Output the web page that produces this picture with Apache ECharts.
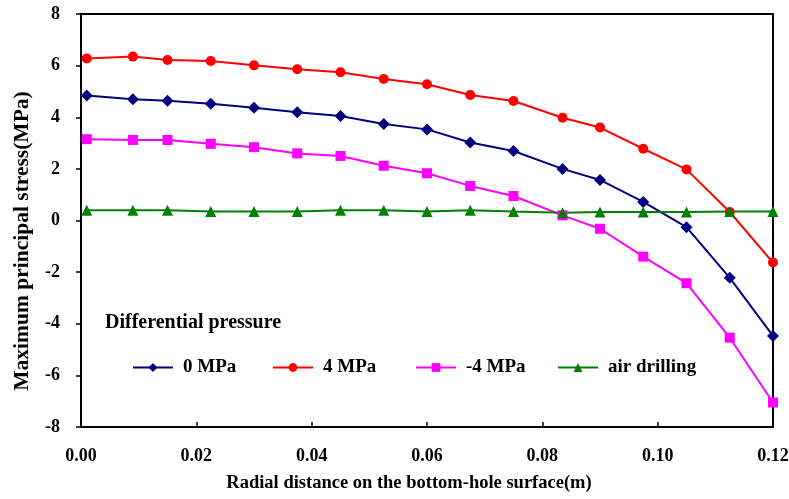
<!DOCTYPE html>
<html>
<head>
<meta charset="utf-8">
<script src="https://cdn.jsdelivr.net/npm/echarts@6/dist/echarts.min.js"></script>
<style>
html,body{margin:0;padding:0;background:#fff;}
#c{width:789px;height:499px;}
</style>
</head>
<body>
<div id="c"></div>
<script>
var radial = [0.001, 0.009, 0.015, 0.0225, 0.03, 0.0375, 0.045, 0.0525, 0.06, 0.0675, 0.075, 0.0835, 0.09, 0.0975, 0.105, 0.1125, 0.12];
var p0 = [4.84, 4.70, 4.64, 4.52, 4.37, 4.19, 4.05, 3.74, 3.53, 3.02, 2.69, 2.00, 1.57, 0.72, -0.26, -2.22, -4.47];
var p4 = [6.28, 6.35, 6.22, 6.18, 6.01, 5.86, 5.74, 5.48, 5.28, 4.86, 4.63, 3.98, 3.60, 2.78, 1.98, 0.33, -1.63];
var pm4 = [3.15, 3.12, 3.12, 2.97, 2.84, 2.60, 2.50, 2.12, 1.83, 1.34, 0.95, 0.20, -0.32, -1.40, -2.43, -4.54, -7.05];
var air = [0.40, 0.40, 0.40, 0.35, 0.35, 0.35, 0.40, 0.40, 0.35, 0.40, 0.35, 0.30, 0.33, 0.33, 0.33, 0.35, 0.35];
var seriesNames = ['0 MPa', '4 MPa', '-4 MPa', 'air drilling'];
var yTicks = [-8, 8, 2];
var xTicks = [0, 0.12, 0.02];
var xTitle = 'Radial distance on the bottom-hole surface(m)';
var yTitle = 'Maximum principal stress(MPa)';
var legendTitle = 'Differential pressure';

function pairs(ys){ return radial.map(function(x,i){ return [x, ys[i]]; }); }
var font = 'Liberation Serif';
var chart = echarts.init(document.getElementById('c'), null, {renderer:'canvas'});
function mk(name, data, color, symbol, size){
  return {name:name, type:'line', data:pairs(data), symbol:symbol, symbolSize:size,
    itemStyle:{color:color}, lineStyle:{color:color, width:2}, animation:false};
}
var legendLeft = [127, 267, 410, 552];
var legends = seriesNames.map(function(n, i){
  return {left:legendLeft[i], top:353, itemWidth:40, itemHeight:11, data:[n],
    textStyle:{fontFamily:font, fontWeight:'bold', fontSize:19, color:'#000', padding:[0,0,0,5]}};
});
chart.setOption({
  animation:false,
  title:{text:legendTitle, left:100, top:308,
    textStyle:{fontFamily:font, fontWeight:'bold', fontSize:20, color:'#000'}},
  legend:legends,
  graphic:[
    {type:'text', x:22, y:241, rotation:Math.PI/2,
      style:{text:yTitle, fill:'#000', font:'bold 21.5px "Liberation Serif"', textAlign:'center', textVerticalAlign:'middle'}},
    {type:'text', x:409, y:483,
      style:{text:xTitle, fill:'#000', font:'bold 18.5px "Liberation Serif"', textAlign:'center', textVerticalAlign:'middle'}}
  ],
  grid:{left:81, top:14, right:16, bottom:72, show:true, borderColor:'#000', borderWidth:2, outerBoundsMode:'none', containLabel:false},
  xAxis:{type:'value', min:xTicks[0], max:xTicks[1], interval:xTicks[2],
    axisLine:{show:true, onZero:false, lineStyle:{color:'#000', width:2}},
    axisTick:{show:true, inside:true, length:5, lineStyle:{color:'#000', width:1.5}},
    axisLabel:{margin:20, fontFamily:font, fontWeight:'bold', fontSize:18, color:'#000',
      formatter:function(v){return v.toFixed(2);}},
    splitLine:{show:false}},
  yAxis:{type:'value', min:yTicks[0], max:yTicks[1], interval:yTicks[2],
    axisLine:{show:true, onZero:false, lineStyle:{color:'#000', width:2}},
    axisTick:{show:true, inside:false, length:5, lineStyle:{color:'#000', width:1.5}},
    axisLabel:{margin:21, fontFamily:font, fontWeight:'bold', fontSize:18, color:'#000'},
    splitLine:{show:false}},
  series:[
    mk(seriesNames[0], p0, '#000080', 'diamond', 12),
    mk(seriesNames[1], p4, '#ff0000', 'circle', 10),
    mk(seriesNames[2], pm4, '#ff00ff', 'rect', 10),
    mk(seriesNames[3], air, '#008000', 'triangle', 11)
  ]
});
</script>
</body>
</html>
